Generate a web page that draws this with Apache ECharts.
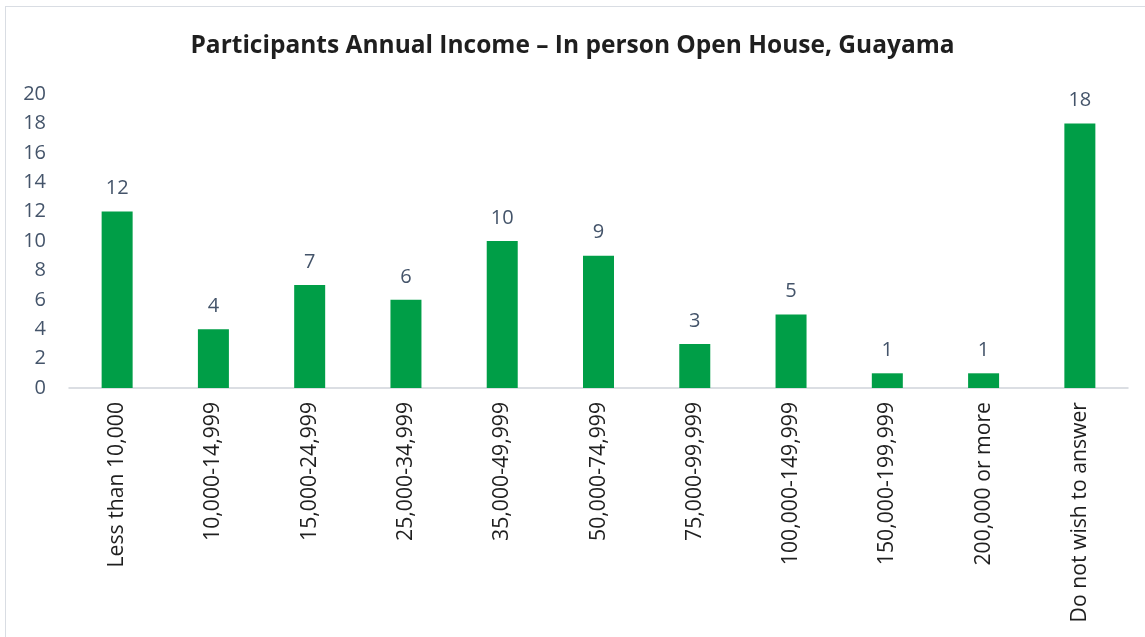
<!DOCTYPE html>
<html>
<head>
<meta charset="utf-8">
<script src="https://cdn.jsdelivr.net/npm/echarts@6/dist/echarts.min.js"></script>
<style>
  html, body { margin: 0; padding: 0; background: #fff; }
  #frame { position: absolute; left: 5px; top: 6px; width: 1150px; height: 640px; border: 1px solid #d9dde3; box-sizing: border-box; }
  #chart { position: absolute; left: 0; top: 0; width: 1145px; height: 637px; }
</style>
</head>
<body>
<div id="frame"></div>
<div id="chart"></div>
<script>
const titleText = 'Participants Annual Income \u2013 In person Open House, Guayama';
const categories = ['Less than 10,000', '10,000-14,999', '15,000-24,999', '25,000-34,999', '35,000-49,999',
  '50,000-74,999', '75,000-99,999', '100,000-149,999', '150,000-199,999', '200,000 or more', 'Do not wish to answer'];
const participants = [12, 4, 7, 6, 10, 9, 3, 5, 1, 1, 18];
const yTicks = { min: 0, max: 20, interval: 2 };

const fontFamily = '"Open Sans", "Noto Sans", sans-serif';
const chart = echarts.init(document.getElementById('chart'));
chart.setOption({
  animation: false,
  title: {
    text: titleText,
    left: 'center',
    top: 29,
    textStyle: { fontFamily, fontSize: 24.5, fontWeight: 'bold', color: '#1f1f1f' }
  },
  grid: { left: 69, right: 17, top: 94, bottom: 249, containLabel: false },
  xAxis: {
    type: 'category',
    data: categories,
    axisLine: { lineStyle: { color: '#d0d4da', width: 1.5 } },
    axisTick: { show: false },
    axisLabel: { rotate: 90, interval: 0, margin: 14, fontFamily, fontSize: 21.2, color: '#1f1f1f' }
  },
  yAxis: {
    type: 'value',
    min: yTicks.min, max: yTicks.max, interval: yTicks.interval,
    axisLine: { show: false },
    axisTick: { show: false },
    splitLine: { show: false },
    axisLabel: { margin: 23, fontFamily, fontSize: 20, color: '#44546a' }
  },
  series: [{
    type: 'bar',
    data: participants,
    barWidth: 31,
    itemStyle: { color: '#009e47' },
    label: { show: true, position: 'top', distance: 13, fontFamily, fontSize: 20, color: '#44546a' }
  }]
});
</script>
</body>
</html>
